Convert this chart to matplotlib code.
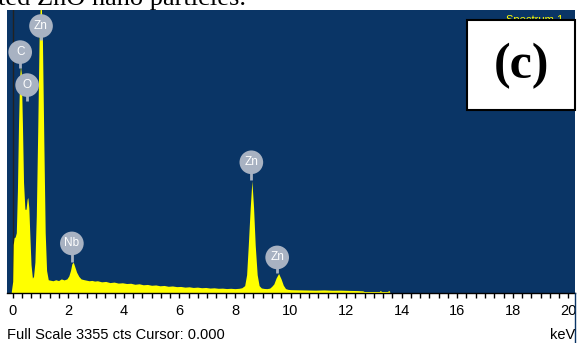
import matplotlib
matplotlib.use("Agg")
import matplotlib.pyplot as plt
from matplotlib.patches import Rectangle
from matplotlib.lines import Line2D

# EDS spectrum (keV, counts)
energy_kev = [-0.05, 0.0, 0.02, 0.05, 0.09, 0.13, 0.17, 0.21, 0.25, 0.28, 0.31, 0.35,
              0.39, 0.44, 0.48, 0.52, 0.545, 0.58, 0.62, 0.66, 0.71, 0.75, 0.80, 0.85,
              0.90, 0.95, 1.01, 1.07, 1.12, 1.17, 1.22, 1.28, 1.35, 1.45, 1.55, 1.65,
              1.75, 1.85, 1.95, 2.02, 2.08, 2.13, 2.18, 2.23, 2.30, 2.38, 2.46, 2.55,
              2.65, 2.75, 2.85, 2.95, 3.05, 3.2, 3.35, 3.5, 3.65, 3.8, 3.95, 4.1,
              4.25, 4.4, 4.55, 4.7, 4.85, 5.0, 5.15, 5.3, 5.45, 5.6, 5.75, 5.9,
              6.05, 6.2, 6.35, 6.5, 6.65, 6.8, 6.95, 7.1, 7.25, 7.4, 7.55, 7.7,
              7.85, 8.0, 8.15, 8.25, 8.35, 8.42, 8.48, 8.55, 8.61, 8.67, 8.73, 8.80,
              8.87, 8.95, 9.05, 9.15, 9.25, 9.32, 9.40, 9.48, 9.57, 9.66, 9.74, 9.82,
              9.90, 10.0, 10.3, 10.6, 10.9, 11.2, 11.5, 11.8, 12.1, 12.4, 12.6, 12.65,
              13.2, 13.22, 13.25, 13.27, 13.5, 13.52, 13.55, 13.57]
counts = [0, 120, 560, 640, 650, 700, 1200, 2000, 2550, 2690, 2600, 2000,
          1300, 980, 980, 1100, 1120, 1000, 650, 320, 160, 180, 350, 900,
          1900, 3000, 3600, 3000, 1800, 700, 250, 140, 135, 128, 140, 130,
          150, 138, 150, 185, 250, 330, 350, 300, 230, 180, 150, 142,
          135, 128, 132, 124, 128, 115, 120, 106, 112, 100, 104, 95,
          98, 86, 92, 80, 84, 74, 78, 68, 72, 62, 66, 58,
          60, 52, 56, 48, 52, 45, 48, 41, 44, 38, 40, 35,
          38, 34, 38, 45, 70, 200, 550, 1000, 1320, 1000, 550, 200,
          70, 42, 36, 34, 40, 60, 90, 160, 215, 150, 75, 35,
          26, 22, 20, 18, 16, 19, 15, 16, 13, 11, 8, 0,
          0, 10, 10, 0, 0, 10, 10, 0]

# element markers: name, energy, circle height, pin end
peak_names = ["C", "O", "Zn", "Nb", "Zn", "Zn"]
peak_energy = [0.27, 0.52, 1.02, 2.13, 8.59, 9.52]
label_counts = [2853, 2460, 3164, 573, 1540, 406]
pin_counts = [2662, 2268, 2997, 346, 1325, 215]

xtick_values = [0, 2, 4, 6, 8, 10, 12, 14, 16, 18, 20]

BLUE = "#0a3566"
YELLOW = "#ffff00"
BADGE = "#a8b2c2"

W, H = 577, 343
fig = plt.figure(figsize=(W / 100, H / 100), dpi=100)
fig.patch.set_facecolor("white")

ax = fig.add_axes([7 / W, 50 / H, 568 / W, 283 / H])
ax.set_facecolor(BLUE)
ax.set_xlim(-0.205, 20.24)
ax.set_ylim(-18, 3355)

ax.axvline(0, color="#222222", lw=1, zorder=1)
ax.fill_between(energy_kev, counts, -18, color=YELLOW, lw=0, zorder=2)

for name, e, yc, yp in zip(peak_names, peak_energy, label_counts, pin_counts):
    ax.plot([e, e], [yc, yp], color=BADGE, lw=2, zorder=3, solid_capstyle="butt")
    ax.scatter([e], [yc], s=290, color=BADGE, edgecolors="none", zorder=4)
    ax.text(e, yc, name, color="white", fontsize=8.5, family="Liberation Sans",
            ha="center", va="center", zorder=5)

for side in ["left", "right", "top"]:
    ax.spines[side].set_visible(False)
ax.spines["bottom"].set_color("black")
ax.spines["bottom"].set_linewidth(1)
ax.set_yticks([])
ax.set_xticks(xtick_values)
ax.set_xticks([i / 3 for i in range(61)], minor=True)
ax.set_xticklabels([str(v) for v in xtick_values], family="Liberation Sans", fontsize=10.5)
ax.tick_params(axis="x", which="both", direction="out", length=3.5, width=1,
               color="black", pad=4.5)

# texts outside the plot area
fig.text(7 / W, 1 - 335 / H, "Full Scale 3355 cts Cursor: 0.000", family="Liberation Sans",
         fontsize=10.5, va="center", ha="left")
fig.text(575 / W, 1 - 335 / H, "keV", family="Liberation Sans", fontsize=10.5,
         va="center", ha="right")
fig.text(-2 / W, 1 - 5.5 / H, "ted ZnO nano particles.", family="Liberation Serif",
         fontsize=19, va="baseline", ha="left")
fig.add_artist(Line2D([575 / W, 575 / W], [0, 50 / H], color=BLUE, lw=1))

fig.text(563 / W, 1 - 23 / H, "Spectrum 1", color=YELLOW, family="Liberation Sans",
         fontsize=8, ha="right", va="baseline", zorder=5)
fig.add_artist(Rectangle((467 / W, 1 - 110 / H), 108 / W, 90 / H, facecolor="white",
                         edgecolor="black", lw=1.5, zorder=6))
fig.text(521 / W, 1 - 66 / H, "(c)", family="Liberation Serif", fontweight="bold",
         fontsize=36, ha="center", va="center", zorder=7)

fig.savefig("out.png", dpi=100)
